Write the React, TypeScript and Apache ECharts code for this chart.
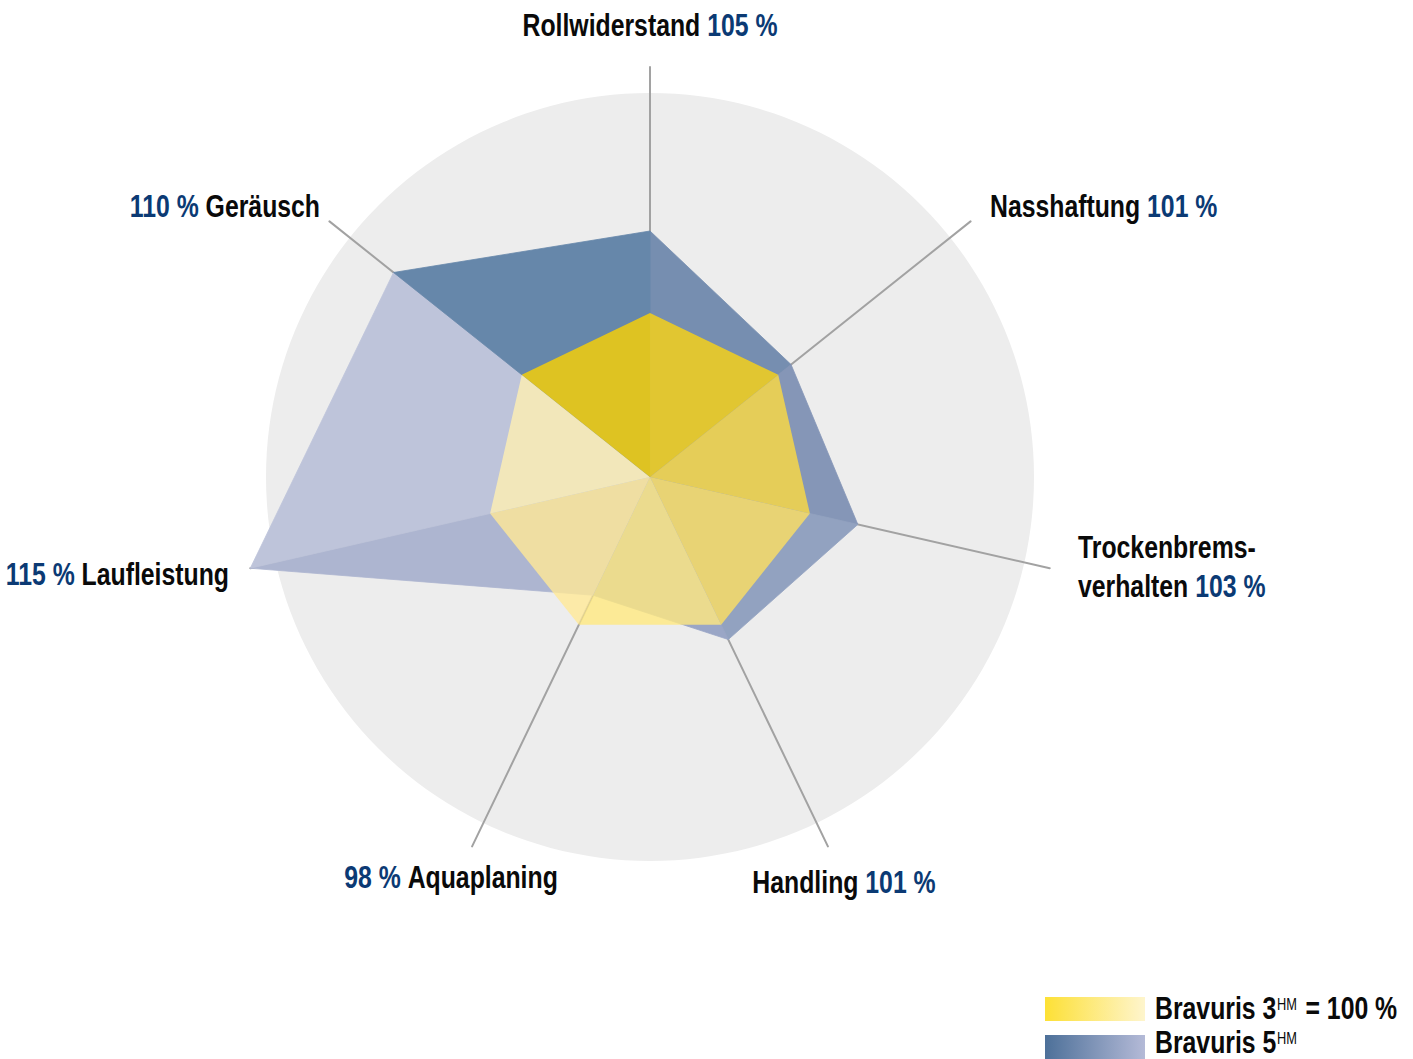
import React, { useEffect, useRef } from "react";
import * as echarts from "echarts";

// ---------- data ----------
const CATEGORIES = [
  "Rollwiderstand",
  "Nasshaftung",
  "Trockenbremsverhalten",
  "Handling",
  "Aquaplaning",
  "Laufleistung",
  "Geräusch",
];
const LABEL_NAMES = [
  "Rollwiderstand",
  "Nasshaftung",
  "Trockenbrems-\nverhalten",
  "Handling",
  "Aquaplaning",
  "Laufleistung",
  "Geräusch",
];
const BRAVURIS_3 = [100, 100, 100, 100, 100, 100, 100];
const BRAVURIS_5 = [105, 101, 103, 101, 98, 115, 110];
const AXIS_MIN = 90;
const AXIS_MAX = 115;
const SERIES_NAMES = ["Bravuris 3HM", "Bravuris 5HM"];

// ---------- styles / layout ----------
const FONT = "'Liberation Sans', Arial, sans-serif";
const SQUEEZE = 0.8; // horizontal condensing of the label font
const BLACK = "#0a0a0a";
const BLUE_TEXT = "#0b3a74";
const CX = 650;
const CY = 477;
// sector colours, sector i lies between axis i and axis i+1 (clockwise)
const BLUE_SECTORS = ["#768eb0", "#8596b7", "#92a2c0", "#9aa6c6", "#adb5d0", "#bec4da", "#6687aa"];
const YELLOW_SECTORS = ["#fdd512", "#fcdb40", "#fee060", "#ffe87f", "#ffe996", "#fff0b1", "#fdd200"];
const YELLOW_OPACITY = 0.8;
// radar draws indicators counter-clockwise from the top
const RADAR_ORDER = [0, 6, 5, 4, 3, 2, 1];

const LABEL_LAYOUT = [
  { x: 650, y: 26, align: "center", valueFirst: false },
  { x: 990, y: 207, align: "left", valueFirst: false },
  { x: 1078, y: 567, align: "left", valueFirst: false },
  { x: 844, y: 883, align: "center", valueFirst: false },
  { x: 451, y: 878, align: "center", valueFirst: true },
  { x: 229, y: 575, align: "right", valueFirst: true },
  { x: 320, y: 207, align: "right", valueFirst: true },
];

function sectorValues(values: number[], i: number) {
  const j = (i + 1) % values.length;
  return RADAR_ORDER.map((k) => (k === i || k === j ? values[k] : AXIS_MIN));
}

function labelText(i: number) {
  const parts = LABEL_NAMES[i].split("\n");
  if (LABEL_LAYOUT[i].valueFirst) {
    const v = `{v|${BRAVURIS_5[i]} % }`;
    return `${v}{n|${parts.join("}\n{n|")}}`;
  }
  const v = `{v| ${BRAVURIS_5[i]} %}`;
  return `{n|${parts.join("}\n{n|")}}${v}`;
}

export default function App() {
  const ref = useRef<HTMLDivElement>(null);

  useEffect(() => {
    if (!ref.current) return;
    const chart = echarts.init(ref.current, undefined, { renderer: "svg" });

    const rich = {
      n: { fontFamily: FONT, fontSize: 31, fontWeight: "bold", fill: BLACK, lineHeight: 39 },
      v: { fontFamily: FONT, fontSize: 31, fontWeight: "bold", fill: BLUE_TEXT, lineHeight: 39 },
      b: { fontFamily: FONT, fontSize: 31, fontWeight: "bold", fill: BLACK, lineHeight: 30 },
      sup: { fontFamily: FONT, fontSize: 16, fill: BLACK, lineHeight: 16, verticalAlign: "top", padding: [2, 2, 0, 1] },
    };

    const labels = LABEL_LAYOUT.map((l, i) => ({
      type: "text",
      z: 100,
      x: l.x,
      y: l.y,
      scaleX: SQUEEZE,
      style: {
        x: 0,
        y: 0,
        text: labelText(i),
        textAlign: l.align,
        textVerticalAlign: "middle",
        fill: BLACK,
        rich,
      },
    }));

    const legend = [
      {
        type: "rect",
        z: 100,
        shape: { x: 1045, y: 997, width: 100, height: 24 },
        style: {
          fill: {
            type: "linear", x: 0, y: 0, x2: 1, y2: 0,
            colorStops: [
              { offset: 0, color: "#fde135" },
              { offset: 0.1, color: "#fde245" },
              { offset: 1, color: "#fef5cd" },
            ],
          },
        },
      },
      {
        type: "rect",
        z: 100,
        shape: { x: 1045, y: 1035, width: 100, height: 24 },
        style: {
          fill: {
            type: "linear", x: 0, y: 0, x2: 1, y2: 0,
            colorStops: [
              { offset: 0, color: "#4d7099" },
              { offset: 1, color: "#b4bad7" },
            ],
          },
        },
      },
      {
        type: "text",
        z: 100,
        x: 1155,
        y: 1009,
        scaleX: SQUEEZE,
        style: {
          x: 0, y: 0, textAlign: "left", textVerticalAlign: "middle", fill: BLACK,
          text: "{b|Bravuris 3}{sup|HM}{b| = 100 %}", rich,
        },
      },
      {
        type: "text",
        z: 100,
        x: 1155,
        y: 1043,
        scaleX: SQUEEZE,
        style: {
          x: 0, y: 0, textAlign: "left", textVerticalAlign: "middle", fill: BLACK,
          text: "{b|Bravuris 5}{sup|HM}", rich,
        },
      },
    ];

    const indicatorsOrdered = RADAR_ORDER.map((k) => CATEGORIES[k]);

    const option: any = {
      animation: false,
      backgroundColor: "#ffffff",
      radar: [
        {
          z: 0,
          center: [CX, CY],
          radius: 384,
          shape: "circle",
          splitNumber: 1,
          indicator: indicatorsOrdered.map((name) => ({ name, min: 0, max: 1 })),
          axisName: { show: false },
          axisLine: { show: false },
          axisTick: { show: false },
          axisLabel: { show: false },
          splitLine: { show: false },
          splitArea: { show: true, areaStyle: { color: ["#ededed", "#ededed"] } },
        },
        {
          z: 1,
          center: [CX, CY],
          radius: 410,
          shape: "polygon",
          indicator: indicatorsOrdered.map((name) => ({ name, min: AXIS_MIN, max: AXIS_MAX })),
          axisName: { show: false },
          axisLine: { show: true, lineStyle: { color: "#a2a2a2", width: 2 } },
          axisTick: { show: false },
          axisLabel: { show: false },
          splitLine: { show: false },
          splitArea: { show: false },
        },
      ],
      series: [
        {
          type: "radar",
          name: SERIES_NAMES[1],
          radarIndex: 1,
          z: 2,
          symbol: "none",
          silent: true,
          data: CATEGORIES.map((_, i) => ({
            value: sectorValues(BRAVURIS_5, i),
            areaStyle: { color: BLUE_SECTORS[i], opacity: 1 },
            lineStyle: { color: BLUE_SECTORS[i], width: 0.8, opacity: 1 },
          })),
        },
        {
          type: "radar",
          name: SERIES_NAMES[0],
          radarIndex: 1,
          z: 3,
          symbol: "none",
          silent: true,
          data: CATEGORIES.map((_, i) => ({
            value: sectorValues(BRAVURIS_3, i),
            areaStyle: { color: YELLOW_SECTORS[i], opacity: YELLOW_OPACITY },
            lineStyle: { width: 0, opacity: 0 },
          })),
        },
      ],
      graphic: [...labels, ...legend],
    };

    chart.setOption(option);
    return () => chart.dispose();
  }, []);

  return (
    <div
      ref={ref}
      style={{ position: "fixed", left: 0, top: 0, width: 1413, height: 1059 }}
    />
  );
}
